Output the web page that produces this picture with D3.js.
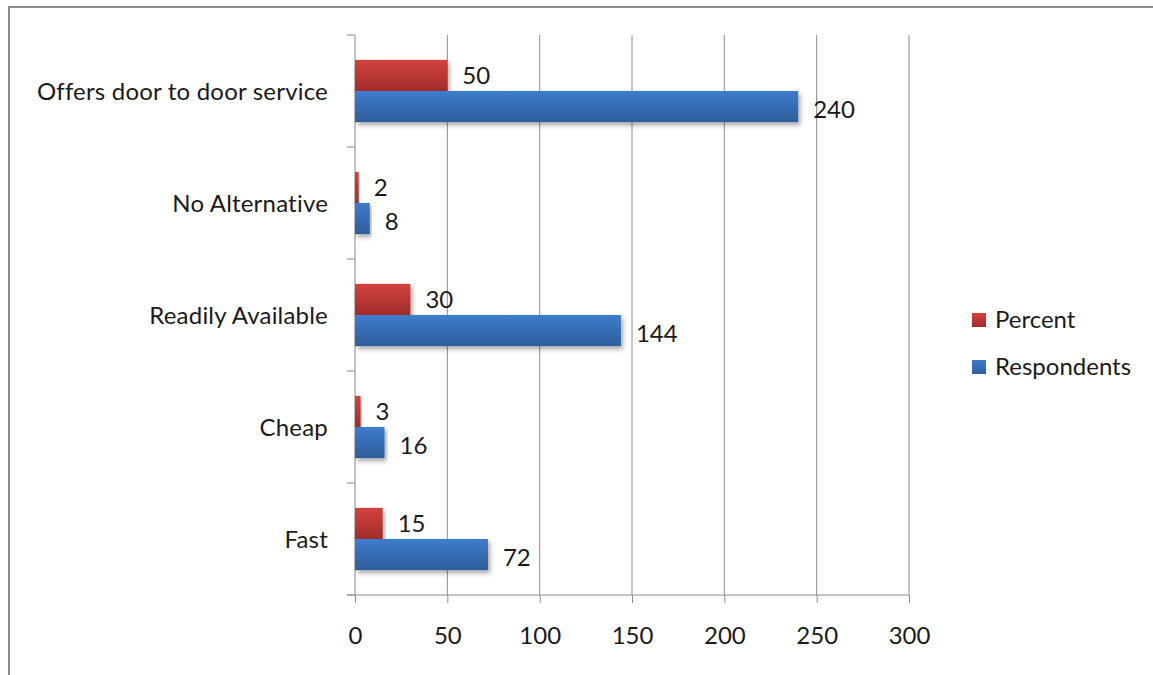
<!DOCTYPE html>
<html>
<head>
<meta charset="utf-8">
<script src="https://cdn.jsdelivr.net/npm/d3@7"></script>
<style>
  body { margin: 0; background: #fff; }
  text { font-family: Lato, "Open Sans", sans-serif; fill: #1a1a1a; }
</style>
</head>
<body>
<svg width="1153" height="675"></svg>
<script>
var categories = ["Offers door to door service", "No Alternative", "Readily Available", "Cheap", "Fast"];
var percent = [50, 2, 30, 3, 15];
var respondents = [240, 8, 144, 16, 72];
var seriesNames = ["Percent", "Respondents"];
var xTicks = [0, 50, 100, 150, 200, 250, 300];

var svg = d3.select("svg");
var fontSize = 24;

// outer chart frame (only top + left visible in the picture)
svg.append("path")
    .attr("d", "M9,675 L9,7 L1153,7")
    .attr("fill", "none")
    .attr("stroke", "#8c8c8c")
    .attr("stroke-width", 2);

var defs = svg.append("defs");
function grad(id, top, bottom) {
    var g = defs.append("linearGradient").attr("id", id)
        .attr("x1", 0).attr("y1", 0).attr("x2", 0).attr("y2", 1);
    g.append("stop").attr("offset", "0%").attr("stop-color", top);
    g.append("stop").attr("offset", "100%").attr("stop-color", bottom);
}
grad("gPercent", "#d3433f", "#a02c29");
grad("gRespondents", "#3e7ccb", "#2e5d9b");

var shadow = defs.append("filter").attr("id", "shadow")
    .attr("x", "-5%").attr("y", "-20%").attr("width", "115%").attr("height", "160%");
shadow.append("feDropShadow")
    .attr("dx", 2).attr("dy", 3).attr("stdDeviation", 2.5)
    .attr("flood-color", "#000").attr("flood-opacity", 0.35);

var x = d3.scaleLinear().domain([0, 300]).range([355, 909]);
var y = d3.scaleBand().domain(categories).range([35, 595]);
var sub = d3.scaleBand().domain(seriesNames).range([0, y.bandwidth()]).paddingOuter(0.8);

var colors = { "Percent": "url(#gPercent)", "Respondents": "url(#gRespondents)" };

// gridlines
svg.append("g")
    .selectAll("line")
    .data(xTicks.slice(1))
    .enter().append("line")
    .attr("x1", function(d) { return x(d); })
    .attr("x2", function(d) { return x(d); })
    .attr("y1", 35).attr("y2", 595)
    .attr("stroke", "#8c8c8c").attr("stroke-width", 1);

// x axis
var xAxis = svg.append("g")
    .attr("transform", "translate(0,595)")
    .call(d3.axisBottom(x).tickValues(xTicks).tickSize(8).tickPadding(24).tickSizeOuter(0));
xAxis.select(".domain").remove();
xAxis.selectAll(".tick line").attr("stroke", "#8c8c8c");
xAxis.selectAll(".tick text").attr("font-size", fontSize)
    .style("font-family", "Lato, sans-serif").attr("fill", "#1a1a1a");
xAxis.append("line").attr("x1", 347).attr("x2", 909).attr("y1", 0).attr("y2", 0)
    .attr("stroke", "#8c8c8c");

// y axis
var yAxis = svg.append("g")
    .attr("transform", "translate(355,0)");
yAxis.append("line").attr("x1", 0).attr("x2", 0).attr("y1", 35).attr("y2", 595)
    .attr("stroke", "#8c8c8c");
var bounds = categories.map(function(c) { return y(c); }).concat([595]);
yAxis.selectAll(".cb")
    .data(bounds)
    .enter().append("line")
    .attr("class", "cb")
    .attr("x1", -8).attr("x2", 0)
    .attr("y1", function(d) { return d; })
    .attr("y2", function(d) { return d; })
    .attr("stroke", "#8c8c8c");
yAxis.selectAll(".clabel")
    .data(categories)
    .enter().append("text")
    .attr("class", "clabel")
    .attr("x", -27)
    .attr("y", function(d) { return y(d) + y.bandwidth() / 2 + 1; })
    .attr("dy", "0.35em")
    .attr("text-anchor", "end")
    .attr("font-size", fontSize)
    .attr("letter-spacing", 0.2)
    .text(function(d) { return d; });

// bars
var rows = categories.map(function(c, i) {
    return [
        { cat: c, series: "Percent", value: percent[i] },
        { cat: c, series: "Respondents", value: respondents[i] }
    ];
});
var groups = svg.append("g").selectAll("g")
    .data(rows)
    .enter().append("g")
    .attr("transform", function(d) { return "translate(0," + y(d[0].cat) + ")"; });

groups.selectAll("rect")
    .data(function(d) { return d; })
    .enter().append("rect")
    .attr("x", x(0))
    .attr("y", function(d) { return sub(d.series); })
    .attr("width", function(d) { return x(d.value) - x(0); })
    .attr("height", sub.bandwidth())
    .attr("fill", function(d) { return colors[d.series]; })
    .attr("filter", "url(#shadow)");

groups.selectAll("text")
    .data(function(d) { return d; })
    .enter().append("text")
    .attr("x", function(d) { return x(d.value) + 15; })
    .attr("y", function(d) { return sub(d.series) + sub.bandwidth() / 2 + (d.series === "Respondents" ? 3 : 0); })
    .attr("dy", "0.35em")
    .attr("font-size", fontSize)
    .text(function(d) { return d.value; });

// legend
var legend = svg.append("g").selectAll("g")
    .data(seriesNames)
    .enter().append("g")
    .attr("transform", function(d, i) { return "translate(972," + (313 + i * 47) + ")"; });
legend.append("rect")
    .attr("width", 14).attr("height", 14)
    .attr("fill", function(d) { return colors[d]; });
legend.append("text")
    .attr("x", 23).attr("y", 7)
    .attr("dy", "0.35em")
    .attr("font-size", fontSize)
    .text(function(d) { return d; });
</script>
</body>
</html>
